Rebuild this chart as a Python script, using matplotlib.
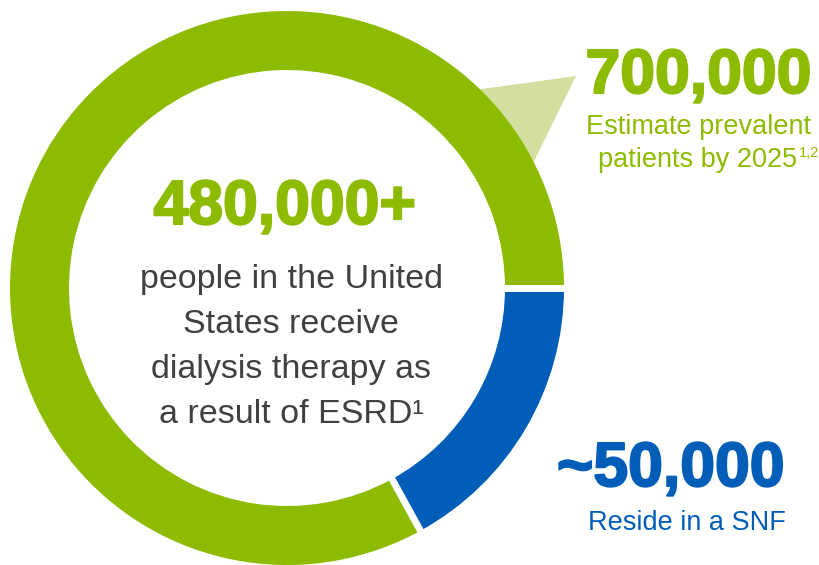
import matplotlib
matplotlib.use("Agg")
import matplotlib.pyplot as plt
import matplotlib.patheffects as pe
import numpy as np

# ring segments (share of ring, as drawn)
segments = ["Reside in a SNF", "Other dialysis patients"]
shares = [17, 83]
colors = ["#005eb8", "#8cbb00"]

big_center = "480,000+"
body_lines = ["people in the United", "States receive",
              "dialysis therapy as", "a result of ESRD\u00b9"]
top_number = "700,000"
top_lines = ["Estimate prevalent", "patients by 2025"]
bottom_number = "~50,000"
bottom_line = "Reside in a SNF"

W, H = 819, 565
GREEN = "#8cbb00"
BLUE = "#005eb8"
LIGHT = "#d3dfa0"

fig = plt.figure(figsize=(W / 100, H / 100), dpi=100)
ax = fig.add_axes([0, 0, 1, 1])

cx, cy = 287, H - 288
r_out, r_in = 277, 218

ax.pie(shares, colors=colors, startangle=0, counterclock=False,
       center=(cx, cy), radius=r_out,
       wedgeprops=dict(width=r_out - r_in, edgecolor="none"))

# white gaps between the segments
bounds = np.cumsum([0] + shares[:-1]) / sum(shares) * -360.0
for b in bounds:
    a = np.radians(b)
    ax.plot([cx + (r_in - 3) * np.cos(a), cx + (r_out + 3) * np.cos(a)],
            [cy + (r_in - 3) * np.sin(a), cy + (r_out + 3) * np.sin(a)],
            color="white", lw=5, solid_capstyle="butt", zorder=3)

# callout triangle behind the ring
r_mid = (r_out + r_in) / 2
a1, a2 = np.radians(51.4), np.radians(21.8)
tri = plt.Polygon([(576, H - 76),
                   (cx + r_mid * np.cos(a1), cy + r_mid * np.sin(a1)),
                   (cx + r_mid * np.cos(a2), cy + r_mid * np.sin(a2))],
                  closed=True, facecolor=LIGHT, edgecolor="none", zorder=0)
ax.add_patch(tri)

ax.set_xlim(0, W)
ax.set_ylim(0, H)
ax.set_aspect("equal")
ax.axis("off")

bold = dict(family="Liberation Sans", fontweight="bold")
thick = [pe.withStroke(linewidth=1.5, foreground=GREEN)]
thick_b = [pe.withStroke(linewidth=1.5, foreground=BLUE)]
reg = dict(family="Liberation Sans")

ax.text(285, H - 224, big_center, ha="center", va="baseline", fontsize=45,
        color=GREEN, path_effects=thick, **bold)

for i, line in enumerate(body_lines):
    ax.text(291, H - (288 + 45 * i), line, ha="center", va="baseline",
            fontsize=24.5, color="#404040", **reg)

ax.text(812, H - 93, top_number, ha="right", va="baseline", fontsize=45,
        color=GREEN, path_effects=thick, **bold)
ax.text(811, H - 134, top_lines[0], ha="right", va="baseline", fontsize=19.5,
        color=GREEN, **reg)
ax.text(797, H - 167, top_lines[1], ha="right", va="baseline", fontsize=19.5,
        color=GREEN, **reg)
ax.text(799, H - 157, "1,2", ha="left", va="baseline", fontsize=10.5,
        color=GREEN, **reg)

ax.text(785, H - 486, bottom_number, ha="right", va="baseline", fontsize=45,
        color=BLUE, path_effects=thick_b, **bold)
ax.text(786, H - 530, bottom_line, ha="right", va="baseline", fontsize=19.5,
        color=BLUE, **reg)

fig.savefig("out.png", dpi=100, facecolor="white")
